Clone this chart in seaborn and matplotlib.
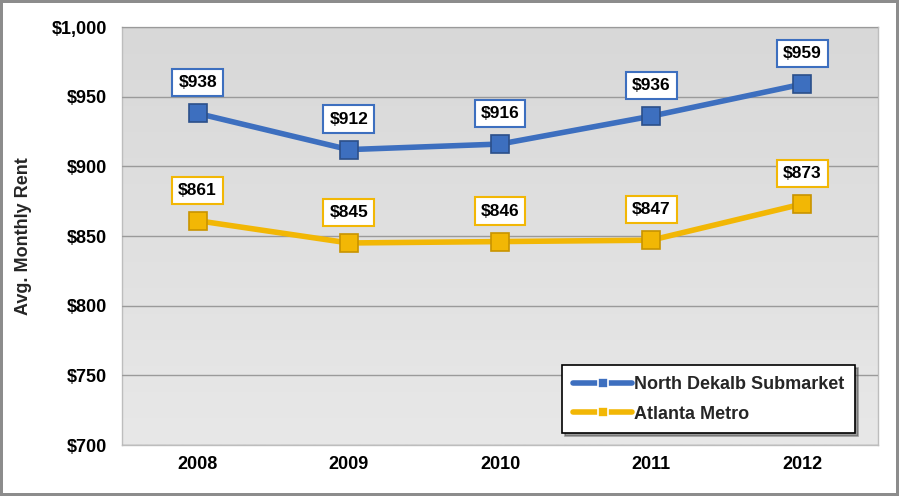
import numpy as np
import pandas as pd
import matplotlib
matplotlib.use("Agg")
import matplotlib.pyplot as plt
import seaborn as sns
from matplotlib.colors import LinearSegmentedColormap
from matplotlib.ticker import FuncFormatter

years = ["2008", "2009", "2010", "2011", "2012"]
north_dekalb = [938, 912, 916, 936, 959]
atlanta_metro = [861, 845, 846, 847, 873]
series_names = ["North Dekalb Submarket", "Atlanta Metro"]

BLUE = "#3d6fbf"
GOLD = "#f2b705"

sns.set_theme(style="white")
plt.rcParams["font.family"] = ["Liberation Sans", "DejaVu Sans"]
plt.rcParams["font.weight"] = "bold"

fig = plt.figure(figsize=(8.99, 4.96), dpi=100)
fig.patch.set_facecolor("white")
fig.patch.set_edgecolor("#8c8c8c")
fig.patch.set_linewidth(3)
ax = fig.add_axes([122 / 899, 1 - 445 / 496, 756 / 899, 418 / 496])

# gradient background of the plot area
grad = np.linspace(0, 1, 256).reshape(-1, 1)
cmap = LinearSegmentedColormap.from_list("bg", ["#d8d8d8", "#e8e8e8"])
ax.imshow(grad, extent=[-0.5, 4.5, 700, 1000], aspect="auto", cmap=cmap,
          origin="upper", zorder=0)

x = np.arange(len(years))
df = pd.DataFrame({
    "x": np.concatenate([x, x]),
    "rent": north_dekalb + atlanta_metro,
    "series": [series_names[0]] * len(years) + [series_names[1]] * len(years),
})

sns.lineplot(data=df, x="x", y="rent", hue="series", palette=[BLUE, GOLD],
             marker="s", markersize=13, linewidth=4, markeredgewidth=1.2,
             ax=ax, zorder=3)
for line, col in zip(ax.get_lines(), [BLUE, GOLD]):
    line.set_markeredgecolor("#2b4f8a" if col == BLUE else "#c99400")

for vals, col in [(north_dekalb, BLUE), (atlanta_metro, GOLD)]:
    for xi, v in zip(x, vals):
        ax.annotate(f"${v}", (xi, v), xytext=(0, 22), textcoords="offset points",
                    ha="center", va="center", fontsize=12.5, fontweight="bold",
                    color="black", zorder=5,
                    bbox=dict(boxstyle="square,pad=0.35", fc="white", ec=col, lw=1.5))

ax.set_xlim(-0.5, 4.5)
ax.set_ylim(700, 1000)
ax.set_yticks(np.arange(700, 1001, 50))
ax.yaxis.set_major_formatter(FuncFormatter(lambda v, p: f"${v:,.0f}"))
ax.set_xticks(x)
ax.set_xticklabels(years)
ax.tick_params(axis="both", labelsize=13, colors="black", length=0, pad=8)
ax.tick_params(axis="y", length=5, color="#888888", direction="out", pad=6)
for lbl in ax.get_xticklabels() + ax.get_yticklabels():
    lbl.set_fontweight("bold")
ax.grid(axis="y", color="#9a9a9a", linewidth=1, zorder=1)
ax.set_axisbelow(False)
for s in ax.spines.values():
    s.set_color("#bdbdbd")
    s.set_linewidth(1)

ax.set_xlabel("")
ax.set_ylabel("Avg. Monthly Rent", fontsize=13, fontweight="bold", labelpad=14)

handles, labels = ax.get_legend_handles_labels()
leg = ax.legend(handles, labels, loc="lower right", bbox_to_anchor=(0.982, 0.006),
                frameon=True, shadow=True, fancybox=False, fontsize=13,
                handlelength=3.3, handletextpad=0.1, borderpad=0.6,
                labelspacing=0.7, markerscale=0.6)
leg.get_frame().set_edgecolor("black")
leg.get_frame().set_linewidth(1.2)
for t in leg.get_texts():
    t.set_fontweight("bold")
leg.set_zorder(6)

fig.savefig("out.png", dpi=100)
